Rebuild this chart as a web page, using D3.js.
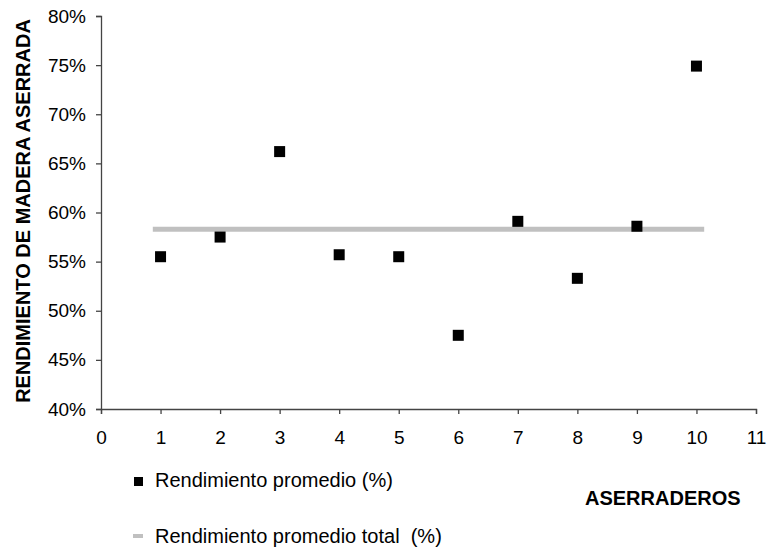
<!DOCTYPE html>
<html>
<head>
<meta charset="utf-8">
<script src="https://cdn.jsdelivr.net/npm/d3@7"></script>
<style>
  body { margin: 0; background: #fff; }
  svg text { font-family: "Liberation Sans", Arial, sans-serif; fill: #000; }
</style>
</head>
<body>
<div id="chart"></div>
<script>
// Aserraderos (sawmills) and their average yield, in percent.
var aserraderos = [1, 2, 3, 4, 5, 6, 7, 8, 9, 10];
var rendimiento = [55.5, 57.5, 66.2, 55.7, 55.5, 47.5, 59.1, 53.3, 58.6, 74.9];

// Overall average yield, drawn as a flat line across the points.
var promedioX = [0.87, 10.13];
var promedioY = [58.3, 58.3];

var xTicks = [0, 1, 2, 3, 4, 5, 6, 7, 8, 9, 10, 11];
var yTicks = [40, 45, 50, 55, 60, 65, 70, 75, 80];

var width = 768;
var height = 550;
var m = { left: 101, right: 12, top: 16, bottom: 141 };

var svg = d3.select("#chart").append("svg")
    .attr("width", width)
    .attr("height", height);

var x = d3.scaleLinear().domain([0, 11]).range([m.left, width - m.right]);
var y = d3.scaleLinear().domain([40, 80]).range([height - m.bottom, m.top]);

// Axes
var xAxis = svg.append("g")
    .attr("transform", "translate(0," + y(40) + ")")
    .call(d3.axisBottom(x).tickValues(xTicks).tickSize(5).tickPadding(17).tickFormat(d3.format("d")));

var yAxis = svg.append("g")
    .attr("transform", "translate(" + x(0) + ",0)")
    .call(d3.axisLeft(y).tickValues(yTicks).tickSize(5).tickPadding(10).tickFormat(function(d) { return d + "%"; }));

[xAxis, yAxis].forEach(function(a) {
    a.select(".domain").attr("stroke", "#444").attr("stroke-width", 1.3);
    a.selectAll(".tick line").attr("stroke", "#444").attr("stroke-width", 1.3);
    a.selectAll(".tick text")
        .style("font-size", "19px")
        .style("font-family", "Liberation Sans, Arial, sans-serif")
        .attr("fill", "#000");
});

// Average line
var line = d3.line()
    .x(function(d) { return x(d[0]); })
    .y(function(d) { return y(d[1]); });

svg.append("path")
    .datum(d3.zip(promedioX, promedioY))
    .attr("d", line)
    .attr("fill", "none")
    .attr("stroke", "#c0c0c0")
    .attr("stroke-width", 5);

// Points
var s = 11;
svg.selectAll("rect.pt")
    .data(d3.zip(aserraderos, rendimiento))
    .enter().append("rect")
    .attr("class", "pt")
    .attr("x", function(d) { return x(d[0]) - s / 2; })
    .attr("y", function(d) { return y(d[1]) - s / 2; })
    .attr("width", s)
    .attr("height", s)
    .attr("fill", "#000");

// Axis titles
svg.append("text")
    .attr("transform", "translate(30,211) rotate(-90)")
    .attr("text-anchor", "middle")
    .style("font-size", "20px")
    .style("font-weight", "bold")
    .text("RENDIMIENTO DE MADERA ASERRADA");

svg.append("text")
    .attr("x", 585)
    .attr("y", 505)
    .style("font-size", "20px")
    .style("font-weight", "bold")
    .text("ASERRADEROS");

// Legend
var legend = svg.append("g");
legend.append("rect")
    .attr("x", 134).attr("y", 477)
    .attr("width", 9).attr("height", 9)
    .attr("fill", "#000");
legend.append("text")
    .attr("x", 155).attr("y", 487)
    .style("font-size", "20px")
    .text("Rendimiento promedio (%)");

legend.append("line")
    .attr("x1", 133).attr("x2", 143)
    .attr("y1", 536).attr("y2", 536)
    .attr("stroke", "#c0c0c0")
    .attr("stroke-width", 4);
legend.append("text")
    .attr("x", 155).attr("y", 543)
    .style("font-size", "20px")
    .attr("xml:space", "preserve")
    .text("Rendimiento promedio total  (%)");
</script>
</body>
</html>
